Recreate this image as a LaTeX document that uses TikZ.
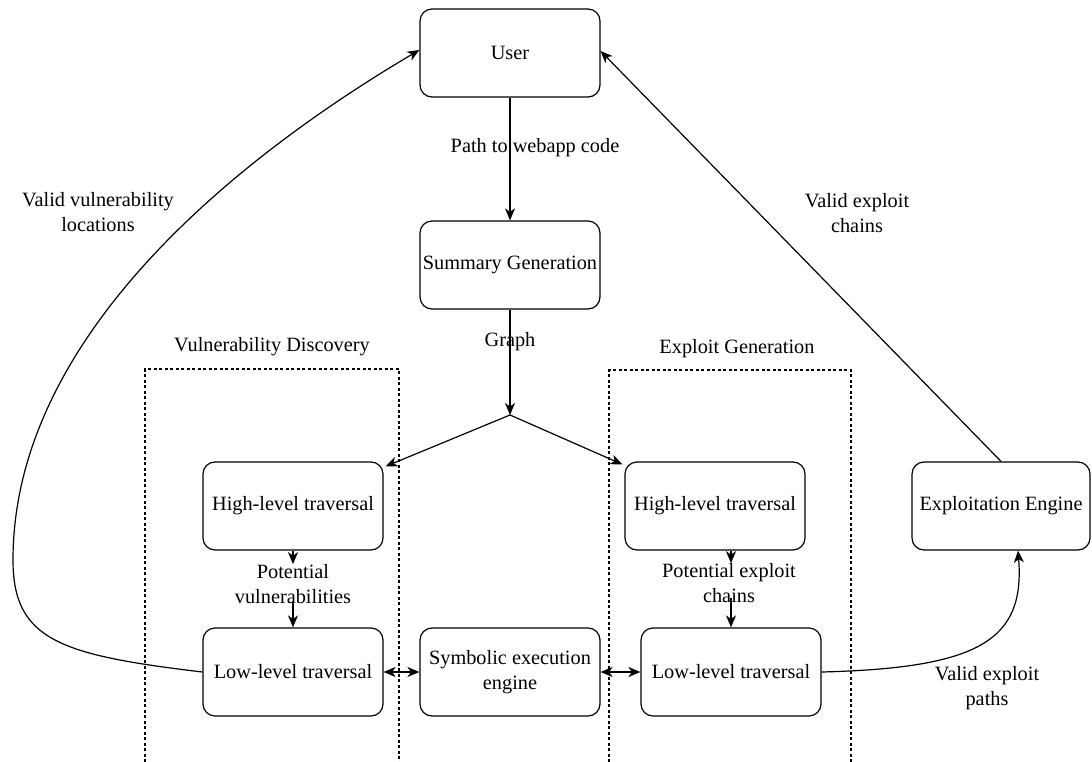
\documentclass[tikz,border=0pt]{standalone}
\usepackage{fontspec}
\setmainfont{Liberation Serif}
\usetikzlibrary{arrows.meta,calc}
\begin{document}
\begin{tikzpicture}[x=1pt,y=-1pt,
  box/.style={draw, rounded corners=12pt, line width=1.2pt, minimum width=180pt, minimum height=88pt, align=center, inner sep=2pt, font=\fontsize{20.3}{25}\selectfont},
  lbl/.style={align=center, inner sep=0pt, font=\fontsize{20.3}{25}\selectfont},
  tip/.tip={Stealth[length=12pt,width=10pt,inset=3.5pt]},
  arr/.style={-tip, line width=1.2pt},
  arrb/.style={tip-tip, line width=1.2pt},
  grp/.style={draw, dash pattern=on 3pt off 2.5pt, line width=1.1pt}]
\useasboundingbox (0,0) rectangle (1092,762);

% nodes
\node[box] (user) at (510,53) {User};
\node[box] (summ) at (510,265) {Summary Generation};
\node[box] (hl1) at (293,506) {High-level traversal};
\node[box] (ll1) at (293,672) {Low-level traversal};
\node[box] (sym) at (510,672) {Symbolic execution\\engine};
\node[box] (hl2) at (715,506) {High-level traversal};
\node[box] (ll2) at (731,672) {Low-level traversal};
\node[box, minimum width=178pt] (ee) at (1001,506) {Exploitation Engine};

% groups
\draw[grp] (145,762) -- (145,369) -- (399,369) -- (399,762);
\draw[grp] (609,762) -- (609,370) -- (851,370) -- (851,762);
\node[lbl] (g1) at (272,347) {Vulnerability Discovery};
\node[lbl] (g2) at (737,349) {Exploit Generation};

% labels
\node[lbl] (pwc) at (535,148) {Path to webapp code};
\node[lbl] (gr) at (510,342) {Graph};
\node[lbl] (pv) at (293,584) {Potential\\vulnerabilities};
\node[lbl] (pe) at (729,583) {Potential exploit\\chains};
\node[lbl] (vvl) at (98,212) {Valid vulnerability\\locations};
\node[lbl] (vec) at (857,213) {Valid exploit\\chains};
\node[lbl] (vep) at (987,688) {Valid exploit\\paths};

% connectors
\coordinate (split) at (510,415);
\draw[arr] (user) -- (summ);
\draw[arr] (summ) -- (split);
\draw[arr] (split) -- ([xshift=2pt,yshift=-5pt]hl1.north east);
\draw[arr] (split) -- ([xshift=-2pt,yshift=-3pt]hl2.north west);

\draw[arr] (hl1.south) -- (pv.north);
\coordinate (pvb) at (293,601);
\draw[arr] (pvb) -- (ll1.north);
\draw[arr] (hl2.south -| ll2.north) -- (ll2.north |- pe.north);
\coordinate (peb) at (731,598);
\draw[arr] (peb) -- (ll2.north);

\draw[arrb] (ll1) -- (sym);
\draw[arrb] (sym) -- (ll2);

\draw[arr] (ll1.west) .. controls (60,655) and (13,640) .. (13,560)
   .. controls (13,330) and (250,150) .. ([yshift=3pt]user.west);
\draw[arr] (ll2.east) .. controls (980,668) and (1025,640) .. ([xshift=17pt]ee.south);
\draw[arr] (ee.north) -- ([yshift=2pt]user.east);
\end{tikzpicture}
\end{document}
